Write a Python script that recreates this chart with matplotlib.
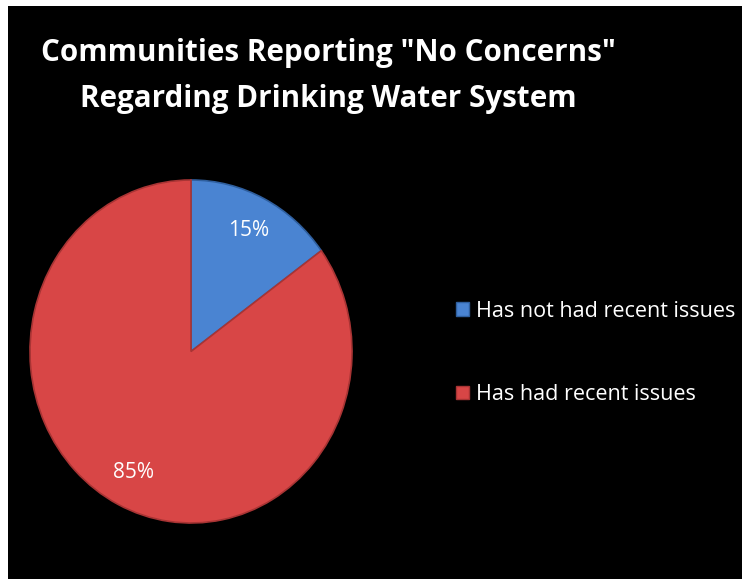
import matplotlib
matplotlib.use("Agg")
import matplotlib.pyplot as plt
from matplotlib.patches import Patch

categories = ["Has not had recent issues", "Has had recent issues"]
values = [15, 85]
colors = ["#4a84d2", "#d84646"]
edge_colors = ["#2f5f9e", "#a83434"]
title = 'Communities Reporting "No Concerns"\nRegarding Drinking Water System'

W, H = 742, 579
fig = plt.figure(figsize=(W / 100, H / 100), dpi=100)
fig.patch.set_facecolor("white")

bg = fig.add_axes([8 / W, 0, 1 - 8 / W, 1 - 6 / H], zorder=-1)
bg.set_facecolor("black")
bg.set_xticks([])
bg.set_yticks([])
for s in bg.spines.values():
    s.set_visible(False)

font = "Open Sans"

cx, cy, rx, ry = 191, 351.5, 161, 171.5
ax = fig.add_axes([(cx - rx) / W, (H - cy - ry) / H, 2 * rx / W, 2 * ry / H])
ax.set_facecolor("none")
wedges, texts, autotexts = ax.pie(values, colors=colors, startangle=90, counterclock=False,
                                  autopct="%d%%", pctdistance=0.79, radius=1,
                                  wedgeprops=dict(linewidth=1.2),
                                  textprops=dict(color="white", fontsize=15, family=font))
for w, ec in zip(wedges, edge_colors):
    w.set_edgecolor(ec)
ax.set_xlim(-1.0, 1.0)
ax.set_ylim(-1.0, 1.0)
ax.set_aspect("auto")
ax.axis("off")

fig.text(328 / W, 1 - 76 / H, title, ha="center", va="center", color="white",
         fontsize=21.3, fontweight="bold", family=font, linespacing=1.7)

handles = [Patch(facecolor=c, edgecolor=ec) for c, ec in zip(colors, edge_colors)]
leg = fig.legend(handles, categories, loc="center left", bbox_to_anchor=(456 / W, 1 - 353 / H),
                 frameon=False, labelcolor="white", handlelength=0.6, handleheight=0.6,
                 handletextpad=0.35, labelspacing=2.9, borderaxespad=0, borderpad=0,
                 prop=dict(family=font, size=15.5))

fig.savefig("out.png", dpi=100, facecolor=fig.get_facecolor())
